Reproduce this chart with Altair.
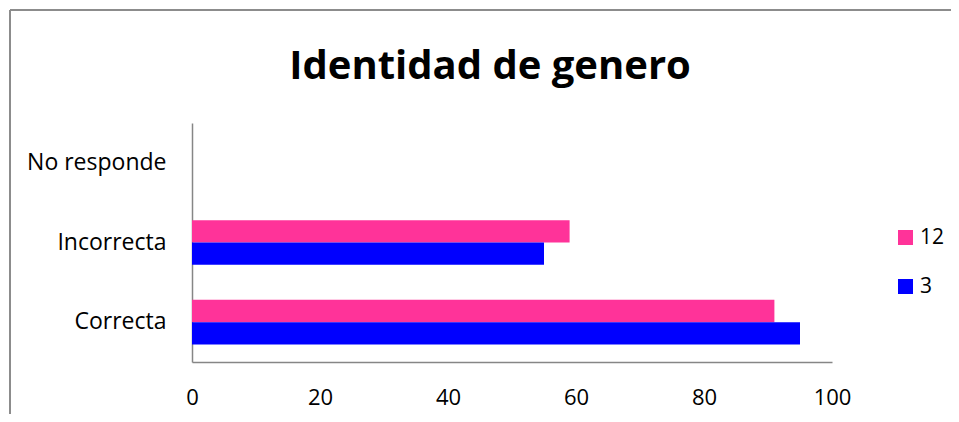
import altair as alt
import pandas as pd

categories = ["No responde", "Incorrecta", "Correcta"]
series = ["12", "3"]
values_12 = [0, 59, 91]
values_3 = [0, 55, 95]
colors = ["#FF3399", "#0000FF"]
x_ticks = [0, 20, 40, 60, 80, 100]

rows = []
for s, vals in zip(series, [values_12, values_3]):
    for c, v in zip(categories, vals):
        rows.append({"categoria": c, "serie": s, "valor": v})
df = pd.DataFrame(rows)

FONT = "Open Sans"
AXIS_GRAY = "#868686"

bars = alt.Chart(df).mark_bar().encode(
    y=alt.Y("categoria:N", sort=categories, title=None,
            scale=alt.Scale(paddingInner=0.44, paddingOuter=0.22),
            axis=alt.Axis(ticks=False, labelFontSize=23, labelFont=FONT,
                          labelColor="#000000", labelPadding=26,
                          domainColor=AXIS_GRAY, domainWidth=1.5)),
    yOffset=alt.YOffset("serie:N", sort=series),
    x=alt.X("valor:Q", title=None,
            scale=alt.Scale(domain=[0, 100], nice=False),
            axis=alt.Axis(values=x_ticks, grid=False, ticks=False, labelFlush=False,
                          labelFontSize=22, labelFont=FONT, labelColor="#000000",
                          labelPadding=25, domainColor=AXIS_GRAY, domainWidth=1.5)),
    color=alt.Color("serie:N", sort=series,
                    scale=alt.Scale(domain=series, range=colors),
                    legend=alt.Legend(title=None, orient="none", legendX=703, legendY=104,
                                      symbolType="square", symbolSize=225,
                                      symbolStrokeWidth=0, labelFontSize=21,
                                      labelFont=FONT, labelColor="#000000",
                                      rowPadding=27, labelOffset=4)),
)

frame_src = pd.DataFrame({"k": [0]})
top_border = alt.Chart(frame_src).mark_rule(color="#8c8c8c", strokeWidth=2).encode(
    x=alt.value(-182), x2=alt.value(759), y=alt.value(-113))
left_border = alt.Chart(frame_src).mark_rule(color="#8c8c8c", strokeWidth=2).encode(
    x=alt.value(-182), y=alt.value(-113), y2=alt.value(299))

chart = alt.layer(bars, top_border, left_border).properties(
    width=640, height=239,
    autosize=alt.AutoSizeParams(type="none"),
    padding={"left": 184, "top": 115, "right": 119, "bottom": 52},
    title=alt.TitleParams("Identidad de genero", fontSize=40, font=FONT,
                          fontWeight="bold", color="#000000", anchor="middle",
                          dx=-22, offset=0, dy=110, baseline="alphabetic"),
).configure(background="#ffffff").configure_view(stroke=None)

chart.save("out.html", embed_options={"renderer": "svg", "actions": False})
